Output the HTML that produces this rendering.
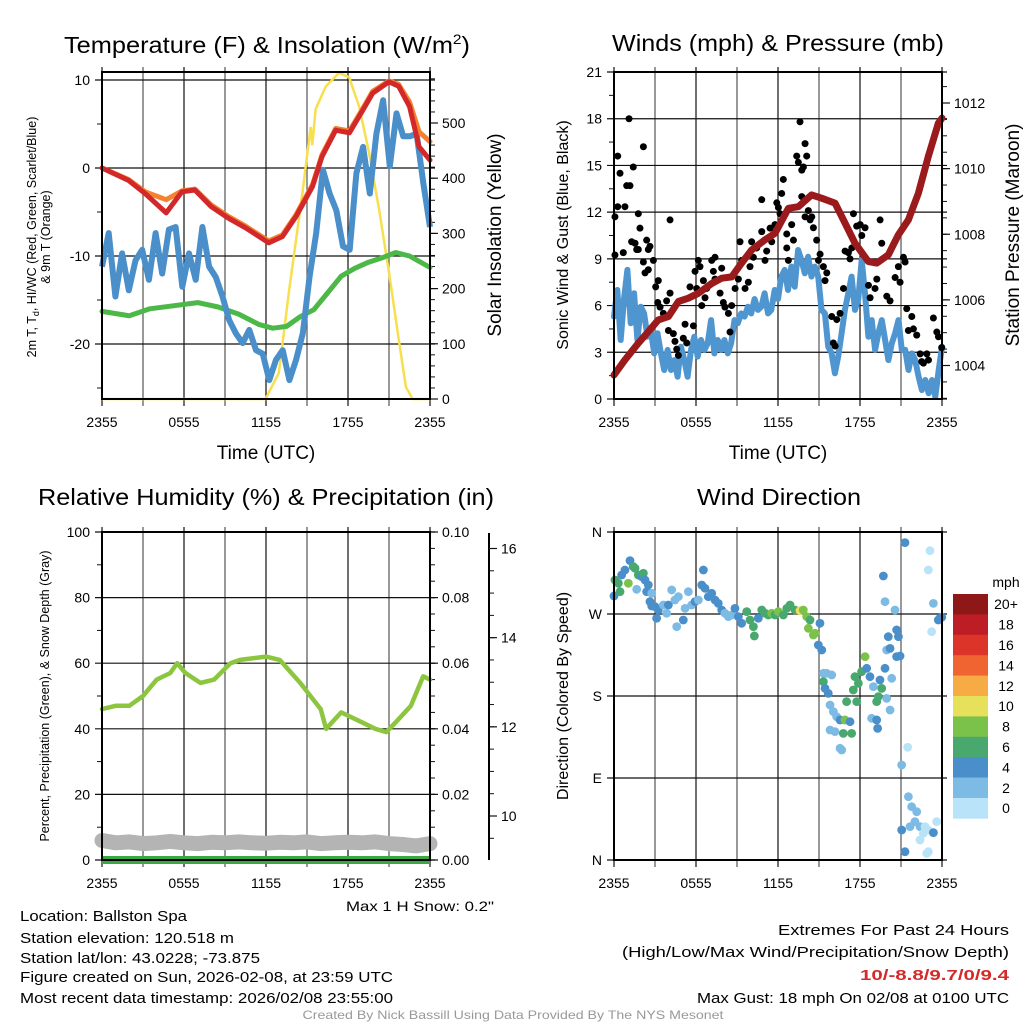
<!DOCTYPE html>
<html><head><meta charset="utf-8">
<style>
html,body{margin:0;padding:0;background:#fff;}
svg{display:block;font-family:"Liberation Sans",sans-serif;}
</style></head>
<body>
<svg id="fig" width="1024" height="1024" viewBox="0 0 1024 1024" xmlns="http://www.w3.org/2000/svg">
<rect x="0" y="0" width="1024" height="1024" fill="#fff"/>
<g id="layer"></g>
<g fill="#000">
<text x="267" y="53" font-size="23" text-anchor="middle" textLength="406" lengthAdjust="spacingAndGlyphs">Temperature (F) &amp; Insolation (W/m<tspan font-size="14" dy="-9">2</tspan><tspan dy="9">)</tspan></text>
<text x="778" y="51" font-size="23" text-anchor="middle" textLength="332" lengthAdjust="spacingAndGlyphs">Winds (mph) &amp; Pressure (mb)</text>
<text x="266" y="505" font-size="23" text-anchor="middle" textLength="456" lengthAdjust="spacingAndGlyphs">Relative Humidity (%) &amp; Precipitation (in)</text>
<text x="779" y="505" font-size="23" text-anchor="middle" textLength="164" lengthAdjust="spacingAndGlyphs">Wind Direction</text>
<text x="266" y="459" font-size="19" text-anchor="middle">Time (UTC)</text>
<text x="778" y="459" font-size="19" text-anchor="middle">Time (UTC)</text>
<text transform="translate(36,237) rotate(-90)" font-size="12.5" text-anchor="middle">2m T, T<tspan font-size="9" dy="3">d</tspan><tspan dy="-3">, HI/WC (Red, Green, Scarlet/Blue)</tspan></text>
<text transform="translate(50,237) rotate(-90)" font-size="12.5" text-anchor="middle">&amp; 9m T (Orange)</text>
<text transform="translate(501,235) rotate(-90)" font-size="19" text-anchor="middle">Solar Insolation (Yellow)</text>
<text transform="translate(568,235) rotate(-90)" font-size="16" text-anchor="middle">Sonic Wind &amp; Gust (Blue, Black)</text>
<text transform="translate(1019,235) rotate(-90)" font-size="19" text-anchor="middle">Station Pressure (Maroon)</text>
<text transform="translate(49,696) rotate(-90)" font-size="12.5" text-anchor="middle">Percent, Precipitation (Green), &amp; Snow Depth (Gray)</text>
<text transform="translate(568,696) rotate(-90)" font-size="16" text-anchor="middle">Direction (Colored By Speed)</text>
<text x="494" y="911" font-size="14" text-anchor="end" textLength="148" lengthAdjust="spacingAndGlyphs">Max 1 H Snow: 0.2"</text>
<text x="20" y="921" font-size="14.5" textLength="167" lengthAdjust="spacingAndGlyphs">Location: Ballston Spa</text>
<text x="20" y="943" font-size="14.5" textLength="214" lengthAdjust="spacingAndGlyphs">Station elevation: 120.518 m</text>
<text x="20" y="963" font-size="14.5" textLength="240" lengthAdjust="spacingAndGlyphs">Station lat/lon: 43.0228; -73.875</text>
<text x="20" y="982" font-size="14.5" textLength="373" lengthAdjust="spacingAndGlyphs">Figure created on Sun, 2026-02-08, at 23:59 UTC</text>
<text x="20" y="1003" font-size="14.5" textLength="373" lengthAdjust="spacingAndGlyphs">Most recent data timestamp: 2026/02/08 23:55:00</text>
<text x="1009" y="935" font-size="15" text-anchor="end" textLength="231" lengthAdjust="spacingAndGlyphs">Extremes For Past 24 Hours</text>
<text x="1009" y="957" font-size="15" text-anchor="end" textLength="387" lengthAdjust="spacingAndGlyphs">(High/Low/Max Wind/Precipitation/Snow Depth)</text>
<text x="1009" y="980" font-size="15" font-weight="bold" fill="#d42a2a" text-anchor="end" textLength="149" lengthAdjust="spacingAndGlyphs">10/-8.8/9.7/0/9.4</text>
<text x="1009" y="1003" font-size="15" text-anchor="end" textLength="312" lengthAdjust="spacingAndGlyphs">Max Gust: 18 mph On 02/08 at 0100 UTC</text>
<text x="513" y="1019" font-size="12" fill="#999" text-anchor="middle" textLength="421" lengthAdjust="spacingAndGlyphs">Created By Nick Bassill Using Data Provided By The NYS Mesonet</text>
<text x="1006" y="587" font-size="14" text-anchor="middle">mph</text>
</g>
</svg>
<script>
// ---------- DATA ----------
const xTickLabels = ["2355","0555","1155","1755","2355"];
const tempRedHours = [0,1.93,3.15,4.7,5.85,6.8,8.0,9.25,10.5,12.2,13.2,14.2,15.4,16.1,17.1,18.1,19.1,19.8,21,21.7,22.5,23.2,24];
const tempRed = [0,-1.4,-2.9,-5.1,-2.7,-2.5,-4.4,-5.7,-6.8,-8.5,-7.8,-5.5,-2.1,1.3,4.3,4.0,6.6,8.5,9.8,9.3,7.0,2.4,0.9];
const temp9mOrange = [0,-1.3,-2.7,-3.6,-2.6,-2.4,-4.2,-5.5,-6.6,-8.3,-7.6,-5.3,-1.9,1.5,4.5,4.2,6.8,8.7,9.9,9.5,7.5,4.1,3.0];
const dewHours = [0,2,3.5,5,7,8.5,10,11.5,12.5,13.5,14.5,15.5,16.5,17.5,18.5,19.5,20.5,21.5,22.5,24];
const dewGreen = [-16.3,-16.8,-16,-15.7,-15.3,-15.8,-16.6,-17.8,-18.2,-18,-16.9,-16.1,-14.2,-12.3,-11.4,-10.7,-10.2,-9.6,-10,-11.3];
const windChillBlue = [-11.2,-7.4,-14.6,-9.7,-13.9,-10.5,-9.3,-12.7,-7.4,-12,-7.0,-6.7,-13.5,-9.7,-12.7,-6.7,-11.2,-12.4,-14.6,-17.3,-18.8,-19.9,-18.4,-20.7,-21.1,-24.1,-21.8,-20.7,-24.1,-21.8,-18.8,-12.4,-7.4,-0.2,-2.9,-4.8,-8.9,-9.3,-0.6,2.4,-2.9,3.9,7.7,0.2,6.2,3.6,3.6,3.9,-1.7,-6.7];
const solarHours = [0,11.96,12.94,13.67,14.66,15.27,15.39,15.63,16.37,17.34,18.08,18.81,19.55,20.28,21.01,21.75,22.24,22.73,24];
const solar = [0,0,47,192,373,493,460,525,566,591,583,530,445,342,228,101,22,0,0];

const pressHours = [0,0.8,1.78,2.51,3.24,3.98,4.71,5.44,6.17,7.15,7.88,8.61,9.34,10.07,11.05,11.78,12.76,13.49,14.46,15.2,16.17,16.9,17.63,18.61,19.22,20.07,20.8,21.54,22.27,23.0,23.73,24];
const pressure = [1003.71,1004.17,1004.68,1005.03,1005.39,1005.49,1005.95,1006.05,1006.2,1006.5,1006.66,1006.7,1007.12,1007.52,1007.83,1008.03,1008.79,1008.84,1009.2,1009.1,1008.95,1008.34,1007.73,1007.17,1007.12,1007.37,1007.98,1008.44,1009.25,1010.37,1011.38,1011.54];
const sonicWind = [5.29,7.0,3.79,6.42,8.29,4.86,6.79,3.79,5.93,5.5,4.0,4.43,2.93,4.22,2.93,1.86,3.15,1.86,2.5,1.43,3.36,2.5,1.43,3.15,4.0,2.72,3.79,3.15,3.58,5.07,2.93,3.79,3.15,3.79,2.93,3.58,5.07,4.86,5.5,5.29,5.93,5.5,6.42,5.72,5.93,6.79,5.5,5.72,7.0,6.42,7.86,8.29,7.0,8.5,7.21,9.57,8.93,8.07,9.14,7.86,8.5,7.86,5.72,5.5,3.36,2.93,1.65,2.72,4.22,5.72,6.79,7.86,5.72,6.42,8.93,6.79,4.0,5.07,3.15,4.22,5.07,3.79,2.5,3.58,4.22,5.07,3.15,3.15,1.86,2.93,2.5,1.43,0.58,1.22,0.37,1.22,0.15,1.86,3.36];
const gustHours = [0.07,0.07,0.27,0.44,0.27,0.8,0.68,0.93,1.17,1.1,1.29,1.41,1.54,1.66,1.78,1.9,1.78,2.15,2.15,2.39,2.51,2.63,2.27,2.51,2.88,3.05,3.24,3.37,3.2,3.61,3.85,4.1,4.1,3.98,4.34,4.46,4.59,4.71,5.07,5.2,5.32,5.81,5.93,6.29,6.17,5.56,6.05,6.54,6.42,6.66,6.78,7.15,7.27,7.39,7.88,7.39,7.76,8.0,8.12,8.37,8.49,8.61,8.86,9.1,9.22,9.34,9.59,9.83,9.95,10.07,10.2,10.44,10.81,10.81,11.05,11.17,11.42,11.54,11.78,11.91,12.03,12.15,12.27,12.39,12.64,12.64,12.76,13.0,13.13,13.37,13.49,13.61,13.74,13.98,13.86,14.1,13.74,13.98,14.22,14.35,14.47,14.59,14.83,14.96,15.08,15.32,15.44,15.57,15.93,16.05,16.18,16.3,16.54,16.79,16.91,17.15,17.27,17.4,17.52,17.76,18.01,18.13,18.37,18.62,18.74,19.1,19.23,19.47,19.59,19.96,20.2,20.57,20.81,20.93,21.18,21.3,21.42,21.54,21.79,21.91,22.15,22.4,22.52,22.64,22.89,23.01,23.37,23.62,23.74,23.98];
const gust = [9.25,11.7,15.6,14.5,12.35,12.35,9.4,13.7,13.7,18.0,10.1,14.9,10.0,9.6,11.9,10.97,9.6,16.2,8.8,10.2,9.6,9.8,8.1,8.3,8.9,7.2,7.6,5.9,6.2,5.5,6.3,11.5,6.8,4.4,4.2,3.7,3.2,2.8,3.9,4.8,3.6,4.7,8.2,8.5,8.9,7.2,7.1,7.6,6.0,6.5,7.1,8.9,8.2,9.1,8.4,7.7,6.8,6.2,5.9,5.5,4.3,6.0,7.1,7.7,10.1,8.9,7.1,7.5,8.5,10.1,9.1,9.7,12.8,10.75,8.9,9.5,10.97,10.1,11.2,12.6,12.3,11.9,13.2,14.1,10.6,9.7,8.9,11.2,10.2,15.6,15.2,17.8,14.7,16.4,14.9,15.6,13.0,11.7,12.1,11.5,11.7,11.0,10.2,8.9,9.3,8.5,7.6,8.1,5.3,3.6,3.4,5.1,5.5,7.1,9.5,9.4,9.0,9.7,11.9,11.1,11.2,10.5,11.0,7.3,6.5,7.1,7.7,11.5,10.0,6.6,6.3,7.8,8.5,7.5,9.1,8.8,5.8,4.4,5.3,4.5,4.1,2.9,2.4,2.3,2.9,2.5,5.2,4.3,4.0,3.3];

const rhHours = [0,1,2,3,4,5,5.5,6.1,7.2,8.2,9.4,10.1,12,13,14.5,16,16.4,17.5,19,20,20.8,21.5,22.6,23.5,24];
const rh = [46,47,47,50,55,57,60,57,54,55,60,61,62,61,54,46,40,45,42,40,39,42,47,56,55];
const precip = [0,0,0,0,0,0,0,0,0,0,0,0,0,0,0,0,0,0,0,0,0,0,0,0,0];
const snowDepth = [9.45,9.4,9.42,9.38,9.4,9.43,9.4,9.38,9.41,9.4,9.42,9.4,9.39,9.41,9.4,9.42,9.38,9.4,9.41,9.4,9.42,9.38,9.36,9.33,9.38];

const dirHours = [0,0.32,0.07,0.44,0.56,0.8,1.05,1.17,1.41,1.54, 1.78,2.02,2.15,1.66,2.27,2.51,2.39,2.76,2.63,2.76, 3.0,3.24,3.12,3.61,3.85,3.98,4.22,4.46,4.71,4.59, 5.07,5.2,5.44,5.68,5.93,6.17,6.42,6.54,6.66,6.9, 7.15,7.39,7.63,7.88,8.12,8.37,8.61,8.85,9.1,9.34, 9.71,9.95,10.2,10.27,10.56,10.81,11.05,11.29,11.54,11.78, 12.03,12.39,12.64,12.88,13.24,13.61,13.85,14.1,14.34,14.22, 14.59,14.71,15.07,14.95,15.2,15.32,15.56,15.32,15.44,15.68, 15.93,15.81,16.05,16.29,16.54,15.81,16.17,16.78,16.54,16.66, 16.9,17.27,17.39,17.02,17.76,17.51,17.63,17.88,18.12,18.37, 18.49,18.73,18.98,19.22,19.34,19.59,19.46,19.95,20.2,18.85, 19.22,19.29,19.83,19.95,20.2,20.32,20.07,20.56,19.83,19.71, 20.68,20.81,20.68,20.93,21.05,21.29,21.49,21.05,21.29,21.54, 21.78,22.15,21.66,22.02,22.39,22.63,22.39,22.76,23.0,23.37, 23.61,22.88,23.0,23.0,23.12,23.37,23.24,23.73,23.85,23.98];
const dirDeg = [289.8,303.7,307.3,294.5,312.8,318.3,303.7,328.6,322,320.2, 312.8,311,314.7,297.1,307.3,301.8,294.5,292.7,283.6,278.8, 278.1,274.4,265.3,279.9,270.8,279.9,296.4,285.4,289,256.1, 263.4,276.2,294.5,279.9,283.6,285.4,301.8,318.3,298.2,289, 292.7,285.4,281.7,274.4,270.8,267.1,268.9,276.2,267.1,259.8, 272.6,263.4,256.1,245.9,265.3,274.4,270.8,268.9,270.8,268.9, 272.6,268.9,276.2,279.9,274.4,273.7,274.4,267.1,263.4,254.3, 247,248.8,259.8,236,230.5,204.9,204.9,195.7,188.4,182.9, 203.1,170.1,162.8,157.3,153.7,142.7,140.9,139,122.6,120.7, 153.7,151.8,139,173.8,173.8,186.6,201.2,193.9,206.7,223.2, 210.4,201.2,190.3,173.8,179.3,188.4,197.6,177.4,164.6,155.5, 153.7,144.5,210.4,230.5,232.3,199.4,245.1,274.4,283.6,311.7, 252.5,245.1,223.2,223.9,104.3,348.3,123.7,32.9,9.1,69.5, 58.5,53,36.6,42.1,36.6,29.3,21.9,36.6,32.9,30, 42.1,7.2,9.1,318.3,339.5,281.7,250.6,263.4,265.3,266.4];
const dirSpeed = [4,6,6,6,4,4,8,4,6,6, 6,4,6,2,4,4,4,2,4,4, 4,4,4,2,2,4,2,2,2,2, 4,2,2,2,4,2,4,4,4,4, 4,4,4,4,2,2,2,4,4,4, 6,6,6,6,4,6,6,6,8,6, 8,6,6,6,6,10,8,8,6,8, 8,8,4,4,4,2,2,6,4,4, 2,2,2,2,4,2,2,6,2,2, 8,4,6,6,6,6,6,6,6,8, 4,4,2,6,6,6,4,2,2,2, 4,4,4,2,4,2,4,2,2,4, 4,4,4,4,2,4,0,4,4,2, 2,2,2,2,2,0,0,0,0,4, 0,0,0,0,0,2,0,4,4,4];
const speedBinLabels = ["0","2","4","6","8","10","12","14","16","18","20+"];
const speedBinColors = ["#b9e3f8","#7dbbe5","#4a8fc9","#48a86e","#7bc24b","#e6e05a","#f6ab45","#ef6430","#dc3428","#bd1e25","#8e1718"];

// ---------- HELPERS ----------
const NS = "http://www.w3.org/2000/svg";
const layer = document.getElementById("layer");
function mk(tag, attrs, parent) {
  const e = document.createElementNS(NS, tag);
  for (const k in attrs) e.setAttribute(k, attrs[k]);
  (parent || layer).appendChild(e);
  return e;
}
function evenHours(n) { const a = []; for (let i = 0; i < n; i++) a.push(i * 24 / (n - 1)); return a; }
function pathD(hours, vals, xs, ys) {
  return hours.map((h, i) => (i ? "L" : "M") + xs(h).toFixed(1) + "," + ys(vals[i]).toFixed(1)).join(" ");
}

const P = {
  a: {x0: 102, x1: 430, y0: 72, y1: 399},
  b: {x0: 614, x1: 942, y0: 72, y1: 399},
  c: {x0: 102, x1: 430, y0: 532, y1: 860},
  d: {x0: 614, x1: 942, y0: 532, y1: 860}
};
function xScale(p) { return h => p.x0 + h / 24 * (p.x1 - p.x0); }
function linScale(v0, v1, y0, y1) { return v => y0 + (v - v0) / (v1 - v0) * (y1 - y0); }

function frame(p, name, leftTicks, leftScale, leftLabels, minorLeft) {
  const xs = xScale(p);
  for (let h = 0; h <= 24; h += 3) {
    const g = mk("line", {x1: xs(h), x2: xs(h), y1: p.y0 - 5, y2: p.y1 + 7, stroke: (h % 6 === 0) ? "#111" : "#555", "stroke-width": 1.2});
    
    
  }
  leftTicks.forEach((v, i) => {
    const y = leftScale(v);
    const g = mk("line", {x1: p.x0 - 7, x2: p.x1 + 5, y1: y, y2: y, stroke: "#111", "stroke-width": 1.2});
    
    
    const t = mk("text", {x: p.x0 - 12, y: y + 5, "font-size": 14, "text-anchor": "end"});
    t.textContent = leftLabels[i];
    
    
  });
  minorLeft.forEach(v => {
    const y = leftScale(v);
    const g = mk("line", {x1: p.x0 - 5, x2: p.x0, y1: y, y2: y, stroke: "#111", "stroke-width": 1});
    
    
  });
  xTickLabels.forEach((lab, i) => {
    const t = mk("text", {x: xs(i * 6), y: 427, "font-size": 14, "text-anchor": "middle"});
    if (p.y1 > 500) t.setAttribute("y", 888);
    t.textContent = lab;
    
    
  });
}
function border(p, name) {
  const r = mk("rect", {x: p.x0, y: p.y0, width: p.x1 - p.x0, height: p.y1 - p.y0, fill: "none", stroke: "#000", "stroke-width": 2});
  
  
}
function rightAxis(p, name, x, scale, majors, labels, minors, y0, y1) {
  const ax = mk("line", {x1: x, x2: x, y1: y0, y2: y1, stroke: "#000", "stroke-width": 2});
  
  
  minors.forEach(v => {
    const y = scale(v);
    const g = mk("line", {x1: x, x2: x + 5, y1: y, y2: y, stroke: "#111", "stroke-width": 1});
    
    
  });
  majors.forEach((v, i) => {
    const y = scale(v);
    const g = mk("line", {x1: x, x2: x + 8, y1: y, y2: y, stroke: "#111", "stroke-width": 1.2});
    
    
    const t = mk("text", {x: x + 12, y: y + 5, "font-size": 14});
    t.textContent = labels[i];
    
    
  });
}
function range(a, b, s) { const r = []; for (let v = a; v <= b + 1e-9; v += s) r.push(+v.toFixed(4)); return r; }

// ---------- PANEL A ----------
(function () {
  const p = P.a, xs = xScale(p);
  const yL = linScale(0, 10, 168, 80);
  const yR = linScale(0, 500, 399, 123);
  frame(p, "temp", [10, 0, -10, -20], yL, ["10", "0", "-10", "-20"], [5, -5, -15, -25]);
  rightAxis(p, "insolation", p.x1, yR, range(0, 500, 100), ["0","100","200","300","400","500"], range(0, 580, 20), p.y0, p.y1);
  const s1 = mk("path", {d: pathD(solarHours, solar, xs, yR), fill: "none", stroke: "#f8df4e", "stroke-width": 2.5});
  
  
  const s2 = mk("path", {d: pathD(dewHours, dewGreen, xs, yL), fill: "none", stroke: "#4cb848", "stroke-width": 5, "stroke-linejoin": "round", "stroke-linecap": "round"});
  
  
  const s3 = mk("path", {d: pathD(evenHours(windChillBlue.length), windChillBlue, xs, yL), fill: "none", stroke: "#4a8fc9", "stroke-width": 6, "stroke-linejoin": "round"});
  
  
  const s4 = mk("path", {d: pathD(tempRedHours, temp9mOrange, xs, yL), fill: "none", stroke: "#f4822f", "stroke-width": 5, "stroke-linejoin": "round", "stroke-linecap": "round"});
  
  
  const s5 = mk("path", {d: pathD(tempRedHours, tempRed, xs, yL), fill: "none", stroke: "#d3282a", "stroke-width": 5, "stroke-linejoin": "round", "stroke-linecap": "round"});
  
  
  border(p, "temp");
})();

// ---------- PANEL B ----------
(function () {
  const p = P.b, xs = xScale(p);
  const yL = linScale(0, 21, 399, 72);
  const yR = linScale(1004, 1012, 365.5, 103);
  frame(p, "wind", range(0, 21, 3), yL, ["0","3","6","9","12","15","18","21"], range(1.5, 19.5, 3));
  rightAxis(p, "pressure", p.x1, yR, range(1004, 1012, 2), ["1004","1006","1008","1010","1012"], range(1003, 1013, 0.5).filter(v => yR(v) >= p.y0 && yR(v) <= p.y1), p.y0, p.y1);
  const s1 = mk("path", {d: pathD(evenHours(sonicWind.length), sonicWind, xs, yL), fill: "none", stroke: "#4f96d1", "stroke-width": 6, "stroke-linejoin": "round", "stroke-linecap": "round"});
  
  
  gust.forEach((g, i) => {
    const c = mk("circle", {cx: xs(gustHours[i]), cy: yL(g), r: 3.5, fill: "#000"});
    
    
  });
  const s2 = mk("path", {d: pathD(pressHours, pressure, xs, yR), fill: "none", stroke: "#9b1b1d", "stroke-width": 7, "stroke-linejoin": "round", "stroke-linecap": "round"});
  
  
  border(p, "wind");
})();

// ---------- PANEL C ----------
(function () {
  const p = P.c, xs = xScale(p);
  const yL = linScale(0, 100, 860, 532);
  const yR = linScale(0, 0.1, 860, 532);
  const yS = linScale(10, 16, 816, 548.5);
  frame(p, "humidity", range(0, 100, 20), yL, ["0","20","40","60","80","100"], range(10, 90, 20));
  rightAxis(p, "precip", p.x1, yR, range(0, 0.1, 0.02), ["0.00","0.02","0.04","0.06","0.08","0.10"], range(0, 0.1, 0.005), p.y0, p.y1);
  rightAxis(p, "snow", 489, yS, [10, 12, 14, 16], ["10","12","14","16"], range(9.5, 16, 0.5), 533, 860);
  const s0 = mk("path", {d: pathD(evenHours(snowDepth.length), snowDepth, xs, yS), fill: "none", stroke: "#b4b4b4", "stroke-width": 15, "stroke-linejoin": "round", "stroke-linecap": "round"});
  
  
  const s1 = mk("path", {d: pathD(evenHours(precip.length), precip, xs, yR), fill: "none", stroke: "#3aa845", "stroke-width": 8});
  
  
  const s2 = mk("path", {d: pathD(rhHours, rh, xs, yL), fill: "none", stroke: "#8cc63f", "stroke-width": 4.5, "stroke-linejoin": "round", "stroke-linecap": "round"});
  
  
  border(p, "humidity");
})();

// ---------- PANEL D ----------
(function () {
  const p = P.d, xs = xScale(p);
  const yD = linScale(0, 360, 860, 532);
  frame(p, "direction", [0, 90, 180, 270, 360], yD, ["N","E","S","W","N"], []);
  const binColor = v => speedBinColors[Math.min(10, Math.floor(v / 2))];
  dirDeg.forEach((d, i) => {
    const c = mk("circle", {cx: xs(dirHours[i]), cy: yD(d), r: 4.4, fill: binColor(dirSpeed[i])});
    
    
  });
  border(p, "direction");
  const bh = 20.4, top = 594, n = speedBinColors.length;
  speedBinColors.forEach((col, i) => {
    const k = n - 1 - i;
    const r = mk("rect", {x: 953, y: top + i * bh, width: 35, height: bh + 0.3, fill: speedBinColors[k]});
    
    
    const t = mk("text", {x: 1006, y: top + i * bh + bh / 2 + 5, "font-size": 14, "text-anchor": "middle"});
    t.textContent = speedBinLabels[k];
    
    
  });
})();
</script>
</body></html>
